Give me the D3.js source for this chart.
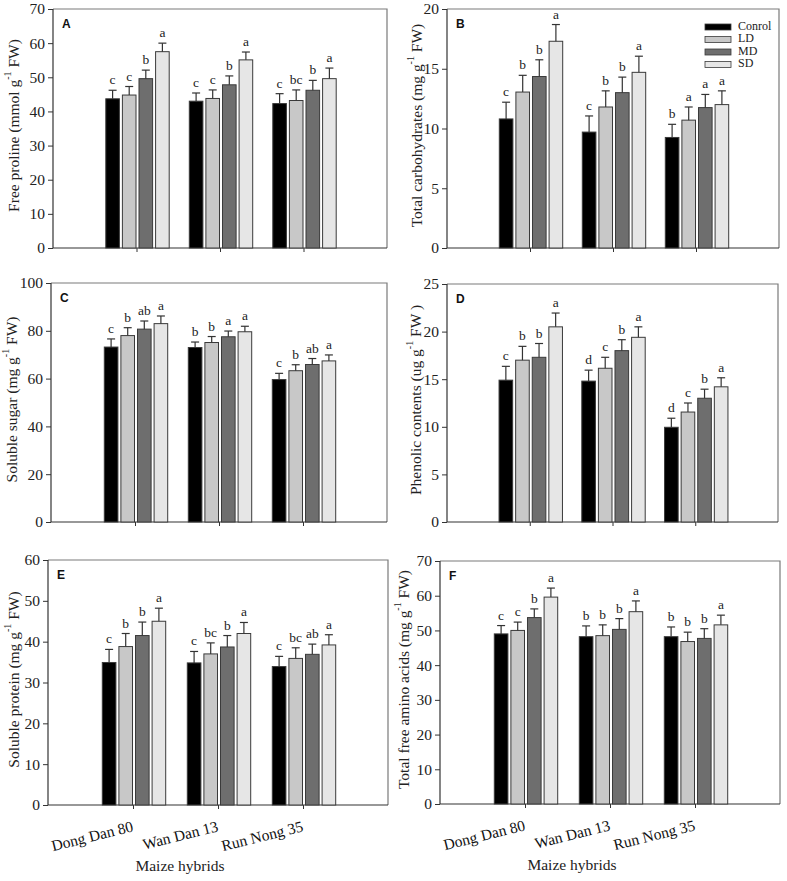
<!DOCTYPE html>
<html><head><meta charset="utf-8">
<script src="https://cdn.jsdelivr.net/npm/d3@7"></script>
<style>body{margin:0;background:#fff}svg{display:block}</style>
</head><body>
<svg id="c" width="787" height="881"></svg>
<script>
// ---------- DATA ----------
const hybrids = ["Dong Dan 80", "Wan Dan 13", "Run Nong 35"];
const treatments = ["Conrol", "LD", "MD", "SD"];
const treatmentColors = ["#000000", "#c8c8c8", "#6e6e6e", "#e6e6e6"];

// Panel A: free proline
const prolineMean = [[43.7, 44.8, 49.6, 57.5], [43.0, 43.8, 47.8, 55.1], [42.3, 43.2, 46.2, 49.6]];
const prolineErr  = [[2.5, 2.5, 2.5, 2.5], [2.4, 2.5, 2.6, 2.3], [2.9, 3.1, 2.9, 3.1]];
const prolineLetters = [["c", "c", "b", "a"], ["c", "c", "b", "a"], ["c", "bc", "b", "a"]];
const prolineTicks = [0, 10, 20, 30, 40, 50, 60, 70];

// Panel B: total carbohydrates
const carbMean = [[10.8, 13.05, 14.35, 17.3], [9.7, 11.8, 13.0, 14.7], [9.25, 10.7, 11.75, 12.0]];
const carbErr  = [[1.4, 1.4, 1.4, 1.4], [1.35, 1.35, 1.3, 1.35], [1.1, 1.1, 1.1, 1.15]];
const carbLetters = [["c", "b", "b", "a"], ["c", "b", "b", "a"], ["b", "a", "a", "a"]];
const carbTicks = [0, 5, 10, 15, 20];

// Panel C: soluble sugar
const sugarMean = [[73.2, 78.0, 80.7, 83.0], [73.0, 75.1, 77.5, 79.6], [59.6, 63.3, 65.9, 67.4]];
const sugarErr  = [[3.4, 3.3, 3.4, 3.2], [2.3, 2.5, 2.4, 2.3], [2.6, 2.5, 2.5, 2.5]];
const sugarLetters = [["c", "b", "ab", "a"], ["b", "b", "a", "a"], ["c", "b", "ab", "a"]];
const sugarTicks = [0, 20, 40, 60, 80, 100];

// Panel D: phenolic contents
const phenolMean = [[14.9, 17.0, 17.3, 20.5], [14.8, 16.15, 18.0, 19.4], [9.95, 11.55, 13.0, 14.2]];
const phenolErr  = [[1.45, 1.45, 1.45, 1.45], [1.15, 1.15, 1.15, 1.1], [0.95, 0.95, 0.95, 0.95]];
const phenolLetters = [["c", "b", "b", "a"], ["d", "c", "b", "a"], ["d", "c", "b", "a"]];
const phenolTicks = [0, 5, 10, 15, 20, 25];

// Panel E: soluble protein
const proteinMean = [[34.9, 38.8, 41.5, 45.0], [34.8, 37.0, 38.7, 42.0], [33.9, 35.9, 36.9, 39.2]];
const proteinErr  = [[3.2, 3.2, 3.3, 3.2], [2.8, 2.7, 2.8, 2.7], [2.5, 2.6, 2.5, 2.5]];
const proteinLetters = [["c", "b", "b", "a"], ["c", "bc", "b", "a"], ["c", "bc", "ab", "a"]];
const proteinTicks = [0, 10, 20, 30, 40, 50, 60];

// Panel F: total free amino acids
const aminoMean = [[49.0, 50.0, 53.7, 59.6], [48.2, 48.5, 50.3, 55.4], [48.2, 46.8, 47.7, 51.6]];
const aminoErr  = [[2.4, 2.4, 2.5, 2.6], [3.1, 3.1, 3.1, 3.1], [2.8, 2.7, 2.8, 2.8]];
const aminoLetters = [["c", "c", "b", "a"], ["b", "b", "b", "a"], ["b", "b", "b", "a"]];
const aminoTicks = [0, 10, 20, 30, 40, 50, 60, 70];

const xTitle = "Maize hybrids";

// ---------- LAYOUT ----------
const panels = [
  {id: "A", mean: prolineMean, err: prolineErr, letters: prolineLetters, ticks: prolineTicks,
   label: ["Free proline (mmol g", "-1", " FW)"], left: 53, right: 387, top: 9, bottom: 248, labOff: 38},
  {id: "B", mean: carbMean, err: carbErr, letters: carbLetters, ticks: carbTicks,
   label: ["Total carbohydrates (mg g", "-1", " FW)"], left: 447, right: 779, top: 9, bottom: 248, labOff: 29, legend: true},
  {id: "C", mean: sugarMean, err: sugarErr, letters: sugarLetters, ticks: sugarTicks,
   label: ["Soluble sugar (mg g", "-1", " FW)"], left: 51, right: 387, top: 283, bottom: 522, labOff: 38},
  {id: "D", mean: phenolMean, err: phenolErr, letters: phenolLetters, ticks: phenolTicks,
   label: ["Phenolic contents (ug g", "-1", " FW )"], left: 447, right: 778, top: 284, bottom: 522, labOff: 30},
  {id: "E", mean: proteinMean, err: proteinErr, letters: proteinLetters, ticks: proteinTicks,
   label: ["Soluble protein (mg g", "-1", " FW)"], left: 48, right: 388, top: 560, bottom: 805, labOff: 33, xlabels: true},
  {id: "F", mean: aminoMean, err: aminoErr, letters: aminoLetters, ticks: aminoTicks,
   label: ["Total free amino acids (mg g", "-1", " FW)"], left: 440, right: 780, top: 561, bottom: 804, labOff: 35, xlabels: true}
];

const svg = d3.select("#c");
const serif = "'Liberation Serif', 'Times New Roman', serif";
const sans = "'Liberation Sans', Arial, sans-serif";

panels.forEach(p => {
  const g = svg.append("g");
  const y = d3.scaleLinear().domain([0, d3.max(p.ticks)]).range([p.bottom, p.top]);
  const x = d3.scaleLinear().domain([0, 4]).range([p.left, p.right]);
  const inner = d3.scaleBand().domain(treatments).paddingInner(0.18);

  // frame (top/right)
  g.append("path")
    .attr("d", `M${p.left},${p.top}H${p.right}V${p.bottom}`)
    .attr("fill", "none").attr("stroke", "#7a7a7a").attr("stroke-width", 1.2);

  // y axis
  const ya = g.append("g").attr("transform", `translate(${p.left},0)`)
    .call(d3.axisLeft(y).tickValues(p.ticks).tickSize(5).tickPadding(3).tickFormat(d3.format("d")));
  ya.select(".domain").remove();
  ya.selectAll("line").attr("stroke", "#333");
  ya.selectAll("text").attr("font-family", serif).attr("font-size", 15.5).attr("fill", "#222");
  g.append("line").attr("x1", p.left).attr("x2", p.left).attr("y1", p.top).attr("y2", p.bottom)
    .attr("stroke", "#333").attr("stroke-width", 1.2);

  // x axis
  const xa = g.append("g").attr("transform", `translate(0,${p.bottom})`)
    .call(d3.axisBottom(x).tickValues([1, 2, 3]).tickSize(4).tickFormat(""));
  xa.select(".domain").remove();
  xa.selectAll("line").attr("stroke", "#333");
  g.append("line").attr("x1", p.left).attr("x2", p.right).attr("y1", p.bottom).attr("y2", p.bottom)
    .attr("stroke", "#333").attr("stroke-width", 1.2);

  // bars
  hybrids.forEach((h, gi) => {
    const cx = x(gi + 1) + 1;
    inner.range([cx - 31.7, cx + 31.7]);
    const bw = inner.bandwidth();
    const gg = g.append("g");
    treatments.forEach((t, ti) => {
      const v = p.mean[gi][ti], e = p.err[gi][ti];
      const bx = inner(t);
      const mx = bx + bw / 2;
      gg.append("rect").attr("x", bx).attr("y", y(v)).attr("width", bw).attr("height", y(0) - y(v))
        .attr("fill", treatmentColors[ti]).attr("stroke", "#3a3a3a").attr("stroke-width", 1);
      gg.append("line").attr("x1", mx).attr("x2", mx).attr("y1", y(v)).attr("y2", y(v + e))
        .attr("stroke", "#333").attr("stroke-width", 1.2);
      gg.append("line").attr("x1", mx - 4).attr("x2", mx + 4).attr("y1", y(v + e)).attr("y2", y(v + e))
        .attr("stroke", "#333").attr("stroke-width", 1.2);
      gg.append("text").attr("x", mx).attr("y", y(v + e) - 6).attr("text-anchor", "middle")
        .attr("font-family", serif).attr("font-size", 13.5).attr("fill", "#222")
        .text(p.letters[gi][ti]);
    });
  });

  // panel letter
  g.append("text").attr("x", p.left + 9).attr("y", p.top + 19)
    .attr("font-family", sans).attr("font-weight", "bold").attr("font-size", 12).attr("fill", "#111")
    .text(p.id);

  // y title
  const ty = (p.top + p.bottom) / 2 - 3;
  const tx = p.left - p.labOff;
  const yt = g.append("text").attr("transform", `translate(${tx},${ty}) rotate(-90)`)
    .attr("text-anchor", "middle").attr("dominant-baseline", "middle")
    .attr("font-family", serif).attr("font-size", 15.5).attr("fill", "#222");
  yt.append("tspan").text(p.label[0]);
  yt.append("tspan").attr("dy", -6).attr("font-size", 10).text(p.label[1]);
  yt.append("tspan").attr("dy", 6).text(p.label[2]);

  // x tick labels
  if (p.xlabels) {
    hybrids.forEach((h, gi) => {
      const tx2 = x(gi + 1) + 1, ty2 = p.bottom + 26;
      g.append("text").attr("transform", `translate(${tx2},${ty2}) rotate(-14)`)
        .attr("text-anchor", "end").attr("font-family", serif).attr("font-size", 15.5).attr("fill", "#111")
        .text(h);
    });
    g.append("text").attr("x", p.left + 132).attr("y", p.bottom + 66).attr("text-anchor", "middle")
      .attr("font-family", serif).attr("font-size", 15.5).attr("fill", "#222").text(xTitle);
  }

  // legend
  if (p.legend) {
    const lg = g.append("g");
    treatments.forEach((t, ti) => {
      const ly = p.top + 18 + ti * 12.5;
      lg.append("rect").attr("x", p.right - 74).attr("y", ly - 3).attr("width", 26).attr("height", 6)
        .attr("fill", treatmentColors[ti]).attr("stroke", "#3a3a3a").attr("stroke-width", 0.8);
      lg.append("text").attr("x", p.right - 41).attr("y", ly).attr("dominant-baseline", "middle")
        .attr("font-family", serif).attr("font-size", 12).attr("fill", "#222").text(t);
    });
  }
});
</script>
</body></html>
